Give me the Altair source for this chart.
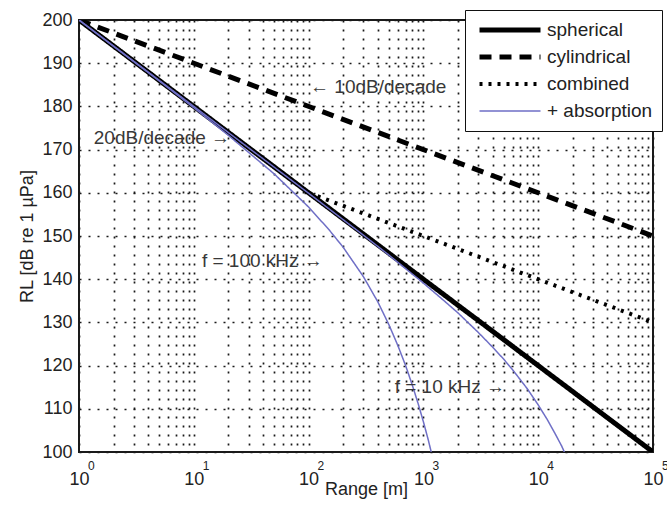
import altair as alt
import pandas as pd

FONT = "Liberation Sans"

series_names = ["spherical", "cylindrical", "combined", "+ absorption"]
series_colors = ["#000000", "#000000", "#000000", "#6f6fc6"]
series_dash = [[1, 0], [12, 8], [3, 6], [1, 0]]
series_width = [5, 5, 4, 1.5]

# spreading laws (straight on the log axis, so end points suffice)
sph_r = [1, 100000]
sph_rl = [200, 100]
cyl_r = [1, 100000]
cyl_rl = [200, 150]
comb_r = [1, 100, 100000]
comb_rl = [200, 160, 130]

# spherical + absorption
abs100_r = [1, 2, 5, 10, 20, 50, 100, 150, 200, 300, 400, 500, 600, 700, 800, 900, 1000, 1100, 1170]
abs100_rl = [200, 193.9, 185.9, 179.7, 173.3, 164.4, 156.7, 151.5, 147.4, 140.6, 134.8, 129.5,
             124.6, 120.0, 115.5, 111.2, 107.0, 102.9, 100.0]
abs10_r = [1, 10, 100, 300, 500, 1000, 1500, 2000, 3000, 4000, 5000, 6000, 7000, 8000, 9000,
           10000, 12000, 14000, 16000, 16900]
abs10_rl = [200, 180, 159.9, 150.2, 145.6, 139.1, 135.1, 132.2, 127.7, 124.3, 121.5, 119.0,
            116.7, 114.7, 112.7, 110.9, 107.5, 104.3, 101.4, 100.0]

# annotations
annL_text = ["← 10dB/decade"]
annL_r = [103]
annL_rl = [184.6]
annR_text = ["20dB/decade →", "f = 100 kHz →", "f = 10 kHz →"]
annR_r = [20.7, 133, 5140]
annR_rl = [172.8, 144.2, 115.0]

# axes
decades = [1, 10, 100, 1000, 10000, 100000]
exponents = ["0", "1", "2", "3", "4", "5"]
x_grid = [m * d for d in [1, 10, 100, 1000, 10000] for m in range(1, 10)] + [100000]
y_ticks = [100, 110, 120, 130, 140, 150, 160, 170, 180, 190, 200]


def frame(rs, rls, series, curve):
    return pd.DataFrame({"r": rs, "rl": rls, "series": series, "curve": curve})


x_scale = alt.Scale(type="log", domain=[1, 100000], nice=False)
y_scale = alt.Scale(domain=[100, 200], nice=False, zero=False)

x_axis = alt.Axis(
    values=x_grid,
    labelExpr="indexof([1,10,100,1000,10000,100000], datum.value) >= 0 ? '10' : ''",
    title="Range [m]",
    titleFontSize=18, titleFont=FONT, titleFontWeight="normal", titleColor="#222222",
    titleBaseline="alphabetic", titleY=42,
    labelFontSize=18, labelFont=FONT, labelColor="#222222",
    labelPadding=18, labelBaseline="top", labelFlush=False, labelOverlap=False,
    ticks=False, tickSize=0, domain=False,
    grid=True, gridColor="#1a1a1a", gridDash=[2, 7], gridWidth=1.7, gridOpacity=1,
)
y_axis = alt.Axis(
    values=y_ticks,
    title="RL [dB re 1 µPa]",
    titleFontSize=18, titleFont=FONT, titleFontWeight="normal", titleColor="#222222",
    titleBaseline="alphabetic", titleX=-47,
    labelFontSize=18, labelFont=FONT, labelColor="#222222",
    labelPadding=7, labelFlush=False,
    ticks=False, tickSize=0, domain=False,
    grid=True, gridColor="#1a1a1a", gridDash=[2, 7], gridWidth=1.7, gridOpacity=1,
)

X = alt.X("r:Q", scale=x_scale, axis=x_axis)
Y = alt.Y("rl:Q", scale=y_scale, axis=y_axis)

width_expr = ("(datum.value == '+ absorption' ? 1.5 : "
              "(datum.value == 'combined' ? 4 : 5))")

enc_common = dict(
    color=alt.Color("series:N", scale=alt.Scale(domain=series_names, range=series_colors),
                    legend=alt.Legend(title=None, symbolStrokeWidth=alt.ExprRef(width_expr))),
    strokeDash=alt.StrokeDash("series:N", scale=alt.Scale(domain=series_names, range=series_dash),
                              legend=alt.Legend(title=None, symbolStrokeWidth=alt.ExprRef(width_expr))),
)


def line_layer(df, w):
    return alt.Chart(df).mark_line(strokeCap="butt", clip=True, strokeWidth=w).encode(
        x=X, y=Y, detail="curve:N", **enc_common,
    )


comb = line_layer(frame(comb_r, comb_rl, "combined", "comb"), series_width[2])
cyl = line_layer(frame(cyl_r, cyl_rl, "cylindrical", "cyl"), series_width[1])
sph = line_layer(frame(sph_r, sph_rl, "spherical", "sph"), series_width[0])
absorb = line_layer(pd.concat([
    frame(abs100_r, abs100_rl, "+ absorption", "f100"),
    frame(abs10_r, abs10_rl, "+ absorption", "f10"),
]), series_width[3])

annL = alt.Chart(pd.DataFrame({"r": annL_r, "rl": annL_rl, "t": annL_text})).mark_text(
    align="left", baseline="middle", fontSize=19, font=FONT, color="#383838"
).encode(x=X, y=Y, text="t:N")
annR = alt.Chart(pd.DataFrame({"r": annR_r, "rl": annR_rl, "t": annR_text})).mark_text(
    align="right", baseline="middle", fontSize=19, font=FONT, color="#383838"
).encode(x=X, y=Y, text="t:N")

sup = alt.Chart(pd.DataFrame({"r": decades, "rl": [100] * 6, "e": exponents})).mark_text(
    align="left", baseline="middle", fontSize=12, font=FONT, color="#222222", dx=9, dy=14
).encode(x=X, y=Y, text="e:N")

chart = alt.layer(comb, cyl, sph, absorb, annL, annR, sup).properties(
    width=574, height=432,
    autosize=alt.AutoSizeParams(type="none"),
    padding={"left": 79, "top": 20, "right": 14, "bottom": 62},
).configure_view(
    stroke="#1a1a1a", strokeWidth=2
).configure_legend(
    orient="none", legendX=386, legendY=-10,
    fillColor="white", strokeColor="#111111", padding=9, cornerRadius=0,
    symbolType="stroke", symbolSize=3721, symbolOffset=3, labelFontSize=19, labelFont=FONT,
    labelColor="#222222", labelOffset=4, clipHeight=22, rowPadding=5,
)

chart.save("out.html", embed_options={"renderer": "svg", "actions": False})
